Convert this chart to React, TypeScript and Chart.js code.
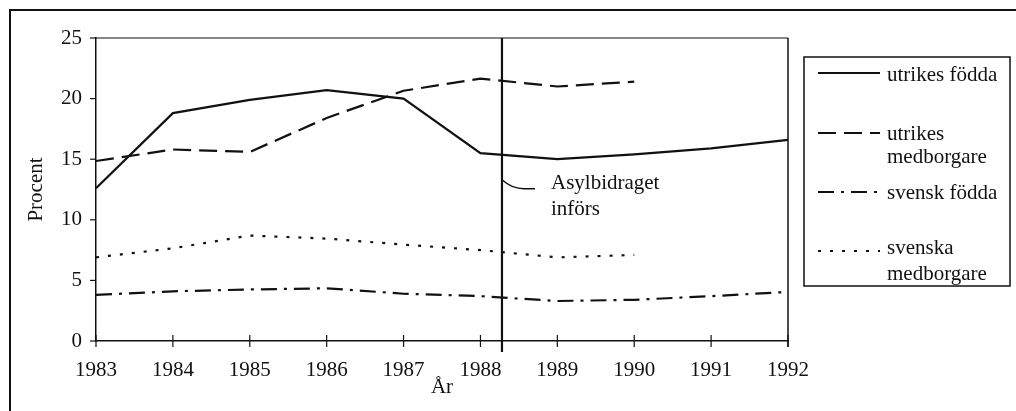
import React, { useEffect, useRef } from "react";
import { Chart, registerables } from "chart.js";

Chart.register(...registerables);

const years = ["1983", "1984", "1985", "1986", "1987", "1988", "1989", "1990", "1991", "1992"];
const utrikesFodda = [12.6, 18.8, 19.9, 20.7, 20.0, 15.5, 15.0, 15.4, 15.9, 16.6];
const utrikesMedborgare = [14.85, 15.8, 15.6, 18.4, 20.65, 21.65, 21.0, 21.4, null, null];
const svenskFodda = [3.8, 4.1, 4.25, 4.35, 3.9, 3.7, 3.3, 3.4, 3.7, 4.05];
const svenskaMedborgare = [6.9, 7.65, 8.7, 8.45, 7.95, 7.5, 6.9, 7.1, null, null];
const yTicks = [0, 5, 10, 15, 20, 25];
const legendLabels = [["utrikes födda"], ["utrikes", "medborgare"], ["svensk födda"], ["svenska", "medborgare"]];
const markerPosition = 5.28; // category index where "Asylbidraget införs" line sits
const annotationValue = 13.3;
const annotationLines = ["Asylbidraget", "införs"];
const yTitle = "Procent";
const xTitle = "År";

const FONT = "'Liberation Serif', 'Times New Roman', serif";
const INK = "#111";

const dashes: number[][] = [[], [18, 8], [16, 7, 3, 7], [3, 9]];

const framePlugin = {
  id: "frame",
  beforeDraw(chart: any) {
    const ctx = chart.ctx;
    ctx.save();
    ctx.fillStyle = "#fff";
    ctx.fillRect(0, 0, chart.width, chart.height);
    ctx.strokeStyle = INK;
    ctx.lineWidth = 2;
    ctx.beginPath();
    ctx.moveTo(10, chart.height);
    ctx.lineTo(10, 10);
    ctx.lineTo(chart.width, 10);
    ctx.stroke();
    ctx.restore();
  },
  afterDraw(chart: any) {
    const { ctx, chartArea: a, scales } = chart;
    const xs = scales.x;
    const ys = scales.y;
    const line = (x1: number, y1: number, x2: number, y2: number, w = 1.5) => {
      ctx.lineWidth = w;
      ctx.beginPath();
      ctx.moveTo(x1, y1);
      ctx.lineTo(x2, y2);
      ctx.stroke();
    };
    ctx.save();
    ctx.strokeStyle = INK;
    ctx.setLineDash([]);
    // plot frame top & right
    line(a.left, a.top, a.right, a.top, 1.2);
    line(a.right, a.top, a.right, a.bottom + 6, 1.5);
    // tick marks
    years.forEach((_, i) => {
      const px = xs.getPixelForValue(i);
      line(px, a.bottom - 6, px, a.bottom + 6, 1.2);
    });
    yTicks.forEach((v) => {
      const py = ys.getPixelForValue(v);
      line(a.left - 6, py, a.left, py, 1.2);
    });
    // marker line
    const mx = xs.getPixelForValue(markerPosition);
    line(mx, a.top, mx, a.bottom + 11, 2.2);
    // annotation connector
    const ay = ys.getPixelForValue(annotationValue);
    ctx.lineWidth = 1.5;
    ctx.beginPath();
    ctx.moveTo(mx, ay);
    ctx.quadraticCurveTo(mx + 10, ay + 9, mx + 22, ay + 9);
    ctx.lineTo(mx + 33, ay + 9);
    ctx.stroke();
    ctx.fillStyle = INK;
    ctx.font = `21px ${FONT}`;
    ctx.textBaseline = "alphabetic";
    ctx.textAlign = "left";
    ctx.fillText(annotationLines[0], mx + 49, ay + 9);
    ctx.fillText(annotationLines[1], mx + 49, ay + 35);

    // legend
    const bx = a.right + 16;
    const by = 57;
    const bw = 206;
    const bh = 229;
    ctx.lineWidth = 1.5;
    ctx.strokeRect(bx, by, bw, bh);
    const rowY = [73, 133, 192, 251];
    const textY = [[81], [140, 163], [199], [254, 280]];
    rowY.forEach((ry, i) => {
      ctx.setLineDash(dashes[i]);
      ctx.lineWidth = 2.2;
      ctx.beginPath();
      ctx.moveTo(bx + 14, ry);
      ctx.lineTo(bx + 76, ry);
      ctx.stroke();
      ctx.setLineDash([]);
      legendLabels[i].forEach((t, j) => ctx.fillText(t, bx + 83, textY[i][j]));
    });
    ctx.restore();
  },
};

export default function App() {
  const ref = useRef<HTMLCanvasElement | null>(null);
  useEffect(() => {
    let chart: Chart | null = null;
    let cancelled = false;
    const build = () => {
      if (cancelled || !ref.current) return;
      const mk = (label: string, data: (number | null)[], i: number) => ({
        label,
        data,
        borderColor: INK,
        borderWidth: 2.2,
        borderDash: dashes[i],
        pointRadius: 0,
        fill: false,
        tension: 0,
        spanGaps: false,
      });
      const tickFont = { family: FONT, size: 21 };
      chart = new Chart(ref.current, {
        type: "line",
        data: {
          labels: years,
          datasets: [
            mk("utrikes födda", utrikesFodda, 0),
            mk("utrikes medborgare", utrikesMedborgare, 1),
            mk("svensk födda", svenskFodda, 2),
            mk("svenska medborgare", svenskaMedborgare, 3),
          ],
        },
        options: {
          animation: false,
          responsive: false,
          layout: { padding: { left: 10, top: 38, right: 228, bottom: 0 } },
          plugins: { legend: { display: false }, tooltip: { enabled: false } },
          scales: {
            x: {
              type: "category",
              offset: false,
              grid: { display: false, drawTicks: false },
              border: { display: true, color: INK, width: 1.5 },
              ticks: { color: INK, font: tickFont, padding: 17, maxRotation: 0, autoSkip: false },
              title: { display: true, text: xTitle, color: INK, font: tickFont, padding: { top: 0, bottom: 11 } },
              afterFit: (s: any) => { s.height = 70; },
            },
            y: {
              min: 0,
              max: 25,
              grid: { display: false, drawTicks: false },
              border: { display: true, color: INK, width: 1.5 },
              ticks: { stepSize: 5, color: INK, font: tickFont, padding: 14 },
              title: { display: true, text: yTitle, color: INK, font: tickFont, padding: { top: 14, bottom: 0 } },
              afterFit: (s: any) => { s.width = 86; },
            },
          },
        },
        plugins: [framePlugin],
      } as any);
    };
    const fonts: any = (document as any).fonts;
    if (fonts && fonts.load) {
      fonts.load("21px 'Liberation Serif'", "Asylbidraget 1983 År").then(build, build);
    } else {
      build();
    }
    return () => {
      cancelled = true;
      if (chart) chart.destroy();
    };
  }, []);
  return (
    <div style={{ position: "fixed", left: 0, top: 0, width: 1016, height: 411, background: "#fff" }}>
      <canvas ref={ref} width={1016} height={411} style={{ display: "block" }} />
    </div>
  );
}
